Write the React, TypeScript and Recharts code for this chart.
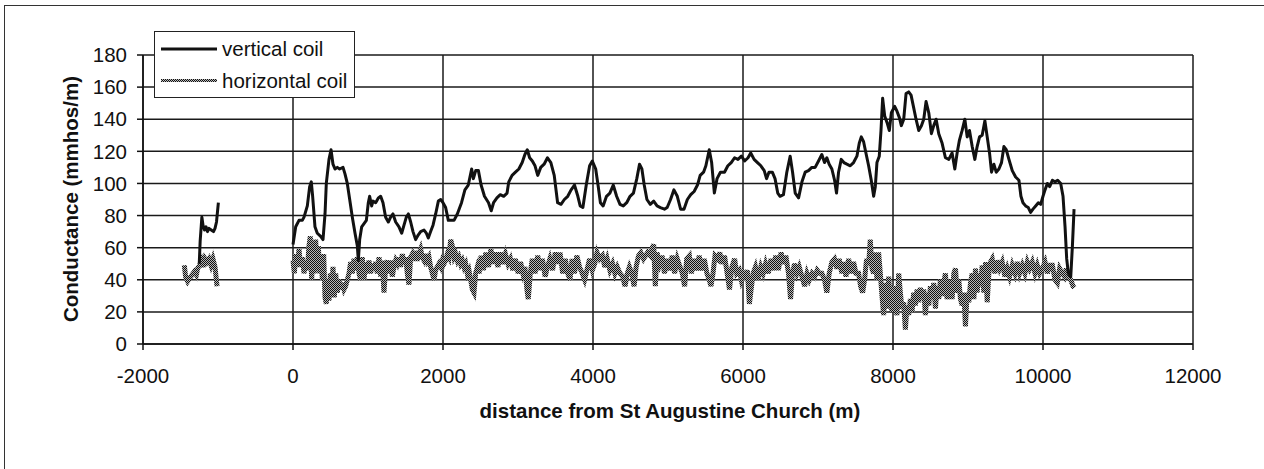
import { LineChart, Line, XAxis, YAxis, CartesianGrid, Legend } from 'recharts'

const FONT = '"Liberation Sans", Arial, sans-serif'

const xTicks = [-2000, 0, 2000, 4000, 6000, 8000, 10000, 12000]
const yTicks = [0, 20, 40, 60, 80, 100, 120, 140, 160, 180]

// [distance (m), conductance (mmhos/m)] ; null marks the gap in the survey
const verticalCoil: [number, number | null][] = [
  [-1250, 50], [-1238, 64], [-1215, 79], [-1200, 74], [-1180, 71], [-1160, 73], [-1140, 70], [-1120, 72],
  [-1090, 71], [-1060, 70], [-1040, 72], [-1020, 76], [-995, 88],
  [-500, null],
  [0, 62], [36, 73], [80, 77], [124, 77], [147, 79], [191, 86], [222, 98], [244, 101], [262, 92], [293, 73],
  [324, 69], [369, 67], [400, 65], [427, 81], [444, 100], [480, 115], [507, 121], [533, 112], [560, 109],
  [591, 110], [622, 109], [667, 110], [693, 106], [724, 100], [756, 90], [791, 79], [827, 69], [858, 61],
  [871, 52], [889, 65], [916, 73], [947, 75], [978, 77], [1004, 88], [1022, 92], [1049, 86], [1067, 89],
  [1102, 88], [1138, 91], [1169, 92], [1200, 88], [1235, 79], [1271, 76], [1302, 79], [1333, 81], [1369, 76],
  [1413, 73], [1449, 69], [1480, 74], [1511, 79], [1538, 81], [1569, 76], [1600, 70], [1635, 65], [1671, 68],
  [1702, 70], [1747, 71], [1778, 69], [1804, 66], [1835, 70], [1867, 74], [1902, 81], [1938, 89], [1969, 90],
  [2000, 88], [2035, 85], [2071, 77], [2102, 77], [2147, 77], [2191, 81], [2247, 88], [2292, 96], [2337, 99],
  [2382, 109], [2405, 103], [2436, 108], [2472, 108], [2508, 99], [2553, 92], [2607, 88], [2643, 83],
  [2674, 88], [2719, 91], [2764, 93], [2809, 92], [2854, 94], [2877, 101], [2921, 105], [2966, 107],
  [3011, 109], [3056, 113], [3092, 118], [3124, 121], [3155, 116], [3191, 114], [3227, 111], [3263, 105],
  [3303, 110], [3348, 112], [3393, 116], [3438, 113], [3483, 105], [3528, 88], [3573, 87], [3618, 90],
  [3663, 92], [3708, 96], [3753, 99], [3798, 92], [3829, 86], [3865, 85], [3910, 99], [3955, 111],
  [3991, 114], [4036, 109], [4067, 99], [4099, 88], [4135, 86], [4180, 92], [4225, 94], [4270, 99],
  [4315, 92], [4360, 87], [4404, 86], [4449, 88], [4494, 92], [4539, 94], [4584, 103], [4620, 112],
  [4652, 109], [4683, 99], [4719, 90], [4764, 87], [4809, 89], [4854, 86], [4899, 85], [4953, 84],
  [4989, 85], [5034, 90], [5079, 96], [5124, 92], [5168, 84], [5213, 84], [5258, 90], [5303, 93],
  [5348, 95], [5393, 99], [5429, 105], [5474, 107], [5505, 111], [5550, 121], [5582, 113], [5618, 94],
  [5654, 103], [5699, 107], [5753, 107], [5798, 111], [5843, 113], [5888, 116], [5933, 115], [5978, 117],
  [6022, 114], [6067, 116], [6103, 119], [6148, 115], [6193, 113], [6238, 111], [6283, 108], [6314, 103],
  [6346, 107], [6391, 107], [6427, 103], [6463, 94], [6494, 92], [6539, 93], [6584, 107], [6629, 117],
  [6661, 107], [6696, 94], [6741, 91], [6786, 101], [6829, 107], [6873, 108], [6918, 110], [6962, 110],
  [7007, 114], [7051, 118], [7087, 113], [7118, 116], [7149, 112], [7185, 109], [7221, 102], [7247, 94],
  [7274, 107], [7310, 115], [7345, 113], [7385, 112], [7430, 111], [7474, 113], [7519, 117], [7550, 125],
  [7577, 129], [7608, 126], [7639, 119], [7675, 111], [7710, 102], [7742, 92], [7764, 98], [7786, 113],
  [7817, 117], [7840, 133], [7862, 153], [7889, 142], [7920, 138], [7951, 133], [7978, 144], [8022, 148],
  [8053, 145], [8085, 141], [8111, 136], [8143, 140], [8174, 156], [8209, 157], [8241, 155], [8272, 148],
  [8307, 140], [8343, 133], [8379, 136], [8410, 140], [8441, 151], [8477, 144], [8512, 131], [8543, 136],
  [8575, 140], [8610, 131], [8655, 125], [8699, 116], [8744, 115], [8788, 119], [8824, 109], [8855, 119],
  [8886, 127], [8922, 133], [8958, 140], [8989, 129], [9020, 133], [9056, 123], [9091, 115], [9122, 123],
  [9154, 129], [9189, 130], [9225, 139], [9256, 129], [9287, 119], [9314, 107], [9345, 112], [9376, 107],
  [9412, 109], [9447, 113], [9479, 123], [9510, 121], [9546, 115], [9590, 108], [9635, 104], [9679, 102],
  [9706, 92], [9733, 88], [9768, 86], [9804, 85], [9835, 82], [9866, 84], [9902, 86], [9938, 88],
  [9969, 87], [10000, 92], [10027, 96], [10058, 100], [10089, 98], [10125, 102], [10160, 101], [10196, 102],
  [10236, 100], [10267, 92], [10294, 73], [10316, 53], [10338, 44], [10370, 42], [10392, 61], [10414, 84],
]

const horizontalCoil: [number, number | null][] = [
  [-1449, 49], [-1432, 42], [-1405, 39], [-1378, 41], [-1347, 43], [-1316, 45], [-1289, 43], [-1272, 47],
  [-1245, 49], [-1218, 52], [-1192, 48], [-1173, 53], [-1147, 51], [-1120, 53], [-1093, 49], [-1067, 53],
  [-1040, 48], [-1013, 36],
  [-500, null],
  [0, 52], [18, 44], [36, 56], [58, 48], [80, 59], [102, 48], [124, 54], [147, 44], [169, 52], [191, 46],
  [213, 61], [231, 67], [249, 40], [267, 61], [284, 44], [302, 65], [320, 46], [338, 61], [356, 44],
  [373, 56], [391, 40], [409, 56], [427, 29], [444, 25], [462, 40], [480, 27], [498, 44], [516, 32],
  [533, 48], [551, 29], [569, 44], [591, 32], [613, 40], [636, 34], [658, 38], [680, 34], [702, 36],
  [724, 40], [747, 44], [769, 51], [791, 44], [813, 53], [836, 46], [858, 54], [880, 44], [902, 40],
  [924, 54], [947, 40], [969, 51], [991, 44], [1013, 52], [1035, 44], [1058, 50], [1080, 46], [1102, 51],
  [1124, 44], [1147, 54], [1169, 42], [1191, 52], [1213, 32], [1235, 48], [1258, 52], [1280, 44],
  [1302, 52], [1324, 42], [1346, 48], [1369, 52], [1391, 50], [1413, 54], [1435, 48], [1458, 56],
  [1480, 50], [1502, 54], [1524, 44], [1546, 37], [1569, 54], [1591, 56], [1613, 52], [1635, 58],
  [1658, 52], [1680, 56], [1702, 59], [1724, 54], [1747, 52], [1769, 56], [1791, 52], [1813, 54],
  [1835, 48], [1858, 44], [1880, 40], [1902, 46], [1924, 48], [1947, 50], [1969, 48], [1991, 52],
  [2013, 50], [2035, 52], [2058, 56], [2080, 54], [2102, 65], [2124, 61], [2147, 54], [2169, 56],
  [2191, 52], [2213, 54], [2235, 50], [2258, 52], [2280, 48], [2302, 50], [2324, 44], [2346, 46],
  [2369, 40], [2391, 34], [2413, 32], [2435, 44], [2458, 48], [2481, 44], [2508, 55], [2539, 46],
  [2571, 57], [2607, 48], [2638, 59], [2670, 50], [2697, 57], [2733, 48], [2764, 57], [2796, 50],
  [2832, 56], [2867, 50], [2899, 53], [2930, 46], [2966, 53], [3002, 44], [3034, 51], [3065, 44],
  [3092, 48], [3119, 34], [3137, 28], [3164, 44], [3191, 53], [3227, 44], [3263, 55], [3299, 46],
  [3326, 53], [3362, 42], [3393, 48], [3425, 53], [3461, 46], [3497, 57], [3528, 50], [3560, 57],
  [3596, 44], [3631, 53], [3663, 44], [3694, 40], [3721, 53], [3753, 44], [3784, 55], [3820, 48],
  [3856, 44], [3888, 40], [3919, 46], [3955, 53], [3991, 46], [4023, 50], [4054, 57], [4090, 53],
  [4126, 55], [4157, 48], [4189, 53], [4225, 46], [4261, 50], [4292, 44], [4324, 48], [4360, 44],
  [4396, 42], [4427, 36], [4458, 44], [4485, 48], [4517, 44], [4548, 36], [4575, 48], [4607, 55],
  [4638, 57], [4674, 53], [4701, 55], [4728, 57], [4764, 55], [4791, 60], [4809, 62], [4831, 36],
  [4854, 57], [4890, 50], [4921, 55], [4953, 44], [4989, 53], [5025, 46], [5056, 55], [5088, 44],
  [5124, 53], [5160, 48], [5191, 44], [5222, 36], [5249, 53], [5285, 55], [5312, 44], [5348, 53],
  [5384, 46], [5416, 55], [5447, 46], [5483, 53], [5519, 44], [5550, 40], [5573, 36], [5600, 44],
  [5627, 55], [5663, 53], [5690, 57], [5717, 50], [5753, 55], [5789, 44], [5820, 34], [5852, 48],
  [5888, 53], [5915, 44], [5950, 46], [5977, 40], [6004, 44], [6031, 42], [6058, 46], [6085, 25],
  [6103, 32], [6135, 44], [6166, 48], [6202, 40], [6238, 48], [6269, 44], [6301, 50], [6337, 44],
  [6373, 53], [6404, 46], [6436, 55], [6472, 46], [6508, 57], [6539, 50], [6571, 55], [6607, 44],
  [6634, 28], [6660, 44], [6687, 50], [6719, 44], [6750, 48], [6786, 42], [6822, 36], [6854, 44],
  [6885, 40], [6921, 44], [6957, 42], [6989, 46], [7020, 44], [7051, 44], [7087, 40], [7118, 32],
  [7149, 44], [7185, 51], [7220, 53], [7252, 47], [7283, 53], [7318, 44], [7345, 51], [7372, 42],
  [7408, 53], [7443, 44], [7474, 51], [7506, 44], [7541, 44], [7568, 36], [7595, 32], [7621, 40],
  [7648, 53], [7675, 49], [7697, 65], [7719, 47], [7742, 44], [7764, 57], [7786, 40], [7808, 57],
  [7831, 44], [7853, 30], [7875, 18], [7898, 38], [7920, 22], [7942, 42], [7964, 28], [7987, 20],
  [8009, 36], [8031, 24], [8053, 18], [8076, 44], [8098, 32], [8120, 22], [8142, 26], [8165, 9],
  [8187, 24], [8209, 18], [8232, 28], [8254, 20], [8276, 32], [8298, 24], [8321, 34], [8343, 26],
  [8365, 35], [8387, 28], [8410, 34], [8432, 18], [8454, 32], [8477, 24], [8499, 36], [8521, 28],
  [8543, 38], [8566, 22], [8588, 36], [8610, 28], [8632, 40], [8655, 30], [8677, 38], [8699, 44],
  [8721, 28], [8744, 36], [8766, 40], [8788, 28], [8811, 44], [8833, 47], [8855, 32], [8877, 40],
  [8900, 28], [8922, 24], [8944, 32], [8966, 11], [8989, 32], [9011, 26], [9033, 38], [9056, 44],
  [9078, 28], [9100, 47], [9122, 32], [9145, 44], [9167, 36], [9189, 49], [9211, 32], [9234, 51],
  [9256, 26], [9278, 44], [9300, 51], [9323, 53], [9358, 44], [9390, 52], [9421, 47], [9456, 51],
  [9492, 42], [9523, 47], [9554, 42], [9590, 49], [9626, 44], [9657, 51], [9688, 44], [9724, 49],
  [9759, 44], [9791, 51], [9822, 47], [9857, 51], [9893, 44], [9924, 49], [9955, 44], [9991, 47],
  [10027, 51], [10058, 44], [10089, 49], [10125, 49], [10160, 40], [10191, 38], [10222, 47], [10258, 44],
  [10285, 42], [10311, 47], [10338, 42], [10369, 40], [10401, 36], [10418, 35],
]

const verticalData = verticalCoil.map(([x, y]) => ({ x, y }))
const horizontalData = horizontalCoil.map(([x, y]) => ({ x, y }))

const tickStyle = { fill: '#111', fontSize: 20.5, fontFamily: FONT }

function LegendBox() {
  const row = { display: 'flex', alignItems: 'center', height: 32, lineHeight: '32px' }
  return (
    <div
      style={{
        width: 201,
        height: 67,
        boxSizing: 'border-box',
        border: '1.5px solid #222',
        background: '#fff',
        paddingTop: 1,
        paddingLeft: 6,
        fontFamily: FONT,
        fontSize: 20.5,
        color: '#111',
      }}
    >
      <div style={row}>
        <svg width={56} height={8} style={{ marginRight: 5 }}>
          <line x1={0} y1={4} x2={56} y2={4} stroke="#111" strokeWidth={3} />
        </svg>
        <span>vertical coil</span>
      </div>
      <div style={row}>
        <svg width={56} height={8} style={{ marginRight: 5 }}>
          <defs>
            <pattern id="halftoneLegend" width="2" height="2" patternUnits="userSpaceOnUse">
              <rect width="2" height="2" fill="#bbb" />
              <rect width="1" height="1" fill="#111" />
              <rect x="1" y="1" width="1" height="1" fill="#111" />
            </pattern>
          </defs>
          <rect x={0} y={2} width={56} height={3} fill="url(#halftoneLegend)" />
        </svg>
        <span>horizontal coil</span>
      </div>
    </div>
  )
}

export default function App() {
  return (
    <div style={{ position: 'absolute', left: 0, top: 0, width: 1264, height: 469, background: '#fff', overflow: 'hidden' }}>
      <div
        style={{
          position: 'absolute',
          left: 4,
          top: 5,
          right: -2,
          bottom: -2,
          borderTop: '1.5px solid #333',
          borderLeft: '1.5px solid #333',
        }}
      />
      <div style={{ position: 'absolute', left: 0, top: 0 }}>
        <LineChart width={1264} height={469} margin={{ top: 55, right: 71, bottom: 85, left: 0 }}>
          <defs>
            <pattern id="halftone" width="2" height="2" patternUnits="userSpaceOnUse">
              <rect width="2" height="2" fill="#b8b8b8" />
              <rect width="1" height="1" fill="#111" />
              <rect x="1" y="1" width="1" height="1" fill="#111" />
            </pattern>
          </defs>
          <CartesianGrid stroke="#1a1a1a" strokeWidth={1.5} />
          <XAxis
            type="number"
            dataKey="x"
            domain={[-2000, 12000]}
            ticks={xTicks}
            allowDataOverflow
            height={40}
            tick={tickStyle}
            tickSize={6}
            tickMargin={18}
            axisLine={{ stroke: '#111', strokeWidth: 1.5 }}
            tickLine={{ stroke: '#111', strokeWidth: 1.5 }}
          />
          <YAxis
            type="number"
            domain={[0, 180]}
            ticks={yTicks}
            width={143}
            tick={tickStyle}
            tickSize={6}
            tickMargin={10}
            axisLine={{ stroke: '#111', strokeWidth: 1.5 }}
            tickLine={{ stroke: '#111', strokeWidth: 1.5 }}
          />
          <Legend
            layout="vertical"
            align="center"
            verticalAlign="middle"
            content={() => <LegendBox />}
            wrapperStyle={{ left: 154, top: 31, width: 201, height: 67 }}
          />
          <Line
            data={horizontalData}
            dataKey="y"
            name="horizontal coil"
            type="linear"
            stroke="url(#halftone)"
            strokeWidth={5}
            dot={false}
            connectNulls={false}
            isAnimationActive={false}
          />
          <Line
            data={verticalData}
            dataKey="y"
            name="vertical coil"
            type="linear"
            stroke="#111"
            strokeWidth={3}
            strokeLinejoin="round"
            dot={false}
            connectNulls={false}
            isAnimationActive={false}
          />
        </LineChart>
      </div>
      <div
        style={{
          position: 'absolute',
          left: 0,
          width: 1264,
          top: 399,
          paddingLeft: 76,
          boxSizing: 'border-box',
          textAlign: 'center',
          fontFamily: FONT,
          fontWeight: 'bold',
          fontSize: 20.5,
          lineHeight: '24px',
          color: '#111',
          whiteSpace: 'nowrap',
        }}
      >
        distance from St Augustine Church (m)
      </div>
      <div
        style={{
          position: 'absolute',
          left: 71,
          top: 199,
          transform: 'translate(-50%, -50%) rotate(-90deg)',
          fontFamily: FONT,
          fontWeight: 'bold',
          fontSize: 20.5,
          lineHeight: '24px',
          color: '#111',
          whiteSpace: 'nowrap',
        }}
      >
        Conductance (mmhos/m)
      </div>
    </div>
  )
}
